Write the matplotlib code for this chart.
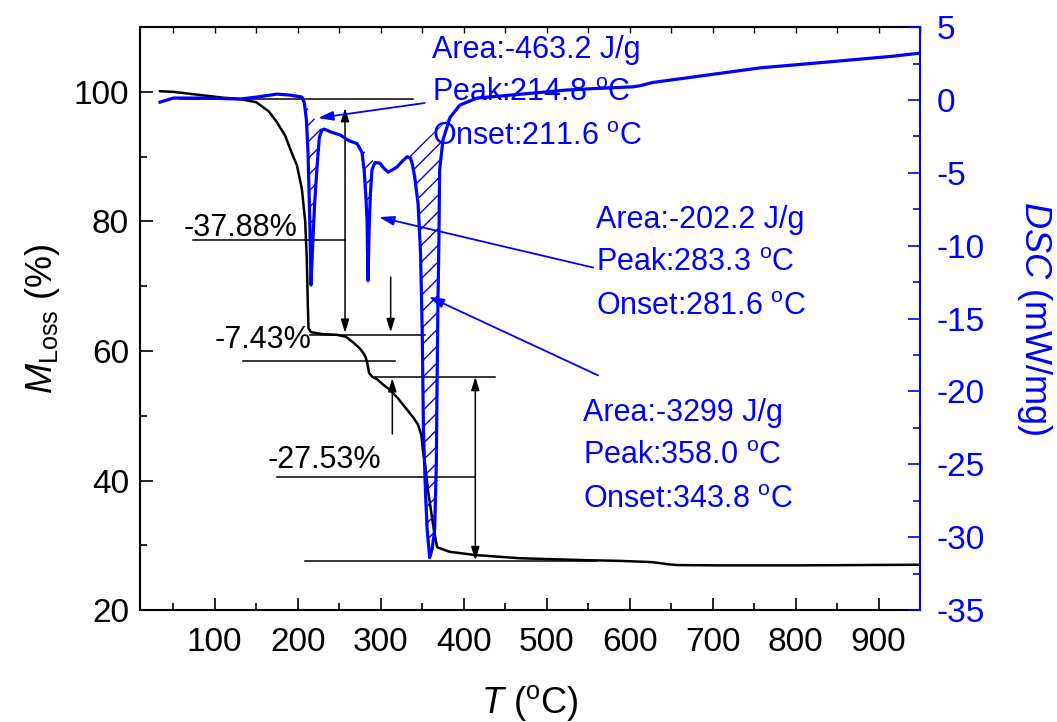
import numpy as np
import matplotlib
matplotlib.use("Agg")
import matplotlib.pyplot as plt
from matplotlib.ticker import MultipleLocator

plt.rcParams["font.family"] = ["Liberation Sans", "DejaVu Sans"]
plt.rcParams["mathtext.fontset"] = "custom"
plt.rcParams["mathtext.rm"] = "Liberation Sans"
plt.rcParams["mathtext.it"] = "Liberation Sans:italic"
plt.rcParams["axes.unicode_minus"] = False
plt.rcParams["hatch.linewidth"] = 1.0

# TGA mass curve (left axis)
tga_T = [34, 50, 70, 90, 110, 130, 150, 165, 175, 185, 193, 199, 205, 209, 211,
         212, 213, 216, 230, 247, 258, 267, 274, 279, 282, 284, 286, 290, 296,
         303, 311, 320, 332, 340, 345, 349, 351, 354, 357, 361, 364, 368, 383,
         414, 468, 549, 588, 628, 645, 657, 709, 800, 948]
tga_M = [100.1, 100.0, 99.7, 99.4, 99.1, 98.9, 98.4, 97.0, 95.3, 93.2, 90.5,
         88.7, 85.0, 80.0, 74.0, 68.0, 63.5, 62.9, 62.6, 62.5, 62.2, 61.3, 60.5,
         59.7, 59.0, 58.0, 56.6, 56.0, 55.6, 54.8, 54.0, 52.8, 50.9, 49.6, 48.6,
         47.0, 44.5, 42.0, 38.5, 35.0, 32.4, 29.7, 29.0, 28.5, 28.0, 27.7, 27.6,
         27.4, 27.1, 26.95, 26.9, 26.9, 27.0]

# DSC heat-flow curve (right axis)
dsc_T = [34, 50, 91, 130, 151, 175, 191, 205, 208, 210.5, 212.4, 214.5, 216,
         218, 220.5, 223, 226, 229, 232, 240, 251, 262, 271.5, 277.5, 280, 282,
         283.5, 284.7, 286, 287.5, 289.5, 293, 299, 304, 309, 314, 319.6, 326,
         331.7, 336, 338.5, 341, 345, 348, 350, 351.5, 354, 356, 359, 362, 365,
         367, 368, 369, 370, 371, 375, 383.5, 395.5, 416, 444, 483.5, 524, 564,
         604, 612, 628, 676, 757, 838, 917, 948]
dsc_D = [-0.15, 0.13, 0.13, 0.06, 0.2, 0.4, 0.33, 0.2, -0.2, -1.4, -3.6, -8.2,
         -12.7, -10.0, -7.0, -4.8, -2.6, -2.07, -2.0, -2.2, -2.4, -2.8, -3.0,
         -3.6, -4.8, -6.5, -8.2, -12.4, -9.0, -6.5, -4.8, -4.3, -4.33, -4.7,
         -4.95, -4.8, -4.6, -4.2, -3.9, -4.0, -4.5, -5.3, -7.1, -10.5, -15.8,
         -22.6, -27.0, -29.5, -31.4, -30.8, -29.5, -25.0, -19.0, -13.7, -10.3,
         -4.8, -2.75, -1.2, -0.35, 0.13, 0.27, 0.47, 0.68, 0.8, 0.9, 0.97, 1.2,
         1.57, 2.2, 2.6, 3.0, 3.2]

# integration ranges (start T, end T) of the three endotherms
peak_ranges = [(208, 229), (271.5, 293), (331.7, 383.5)]
peak_text = [["Area:-463.2 J/g", "Peak:214.8 $^\\mathrm{o}$C", "Onset:211.6 $^\\mathrm{o}$C"],
             ["Area:-202.2 J/g", "Peak:283.3 $^\\mathrm{o}$C", "Onset:281.6 $^\\mathrm{o}$C"],
             ["Area:-3299 J/g", "Peak:358.0 $^\\mathrm{o}$C", "Onset:343.8 $^\\mathrm{o}$C"]]

# mass-loss steps
loss_labels = ["-37.88%", "-7.43%", "-27.53%"]

BLUE = "#0000FF"

fig = plt.figure(figsize=(10.57, 7.22), dpi=100)
ax = fig.add_axes([0.1325, 0.155, 0.738, 0.8075])
ax2 = ax.twinx()

ax.plot(tga_T, tga_M, color="black", lw=1.8, zorder=3)
ax2.plot(dsc_T, dsc_D, color=BLUE, lw=2.3, zorder=3)

dT = np.array(dsc_T)
dD = np.array(dsc_D)
for t0, t1 in peak_ranges:
    m = (dT >= t0) & (dT <= t1)
    ax2.fill(dT[m], dD[m], facecolor="none", edgecolor=BLUE, hatch="//", lw=0)

# black step construction lines
hlines = [(98.9, 58, 339), (77.1, 74, 257), (62.5, 215, 353), (58.5, 134, 317),
          (56.0, 293, 438), (40.5, 175, 414), (27.6, 209, 560)]
for y, x0, x1 in hlines:
    ax.plot([x0, x1], [y, y], color="black", lw=1.1)

aprops = dict(color="black", lw=1.1, shrinkA=0, shrinkB=0)
ax.annotate("", xy=(257, 97.5), xytext=(257, 62.8),
            arrowprops=dict(arrowstyle="<|-|>,head_length=0.8,head_width=0.25", **aprops))
ax.annotate("", xy=(312, 62.9), xytext=(312, 71.4),
            arrowprops=dict(arrowstyle="-|>,head_length=0.8,head_width=0.25", **aprops))
ax.annotate("", xy=(314, 55.8), xytext=(314, 47.2),
            arrowprops=dict(arrowstyle="-|>,head_length=0.8,head_width=0.25", **aprops))
ax.annotate("", xy=(414, 56.0), xytext=(414, 27.7),
            arrowprops=dict(arrowstyle="<|-|>,head_length=0.8,head_width=0.25", **aprops))

for lab, (x, y) in zip(loss_labels, [(62, 77.8), (100, 60.5), (164, 41.9)]):
    ax.text(x, y, lab, fontsize=22, ha="left", va="baseline")

# blue peak annotations
text_pos = [(362, [3.42, 0.47, -2.55]), (559, [-8.24, -11.19, -14.21]),
            (544, [-21.48, -24.43, -27.45])]
for lines, (x, ys) in zip(peak_text, text_pos):
    for s, y in zip(lines, ys):
        ax2.text(x, y, s, color=BLUE, fontsize=22, ha="left", va="center")

arrows = [((224.5, -1.24), (353, -0.21)), ((298, -8.04), (556, -11.5)),
          ((358, -13.5), (562, -18.9))]
for tip, tail in arrows:
    ax2.annotate("", xy=tip, xytext=tail,
                 arrowprops=dict(arrowstyle="-|>,head_length=0.9,head_width=0.28",
                                 color=BLUE, lw=1.3, shrinkA=0, shrinkB=0))

ax.set_xlim(10, 950)
ax.set_ylim(20, 110)
ax2.set_ylim(-35, 5)

ax.xaxis.set_major_locator(MultipleLocator(100))
ax.xaxis.set_minor_locator(MultipleLocator(50))
ax.yaxis.set_major_locator(MultipleLocator(20))
ax.yaxis.set_minor_locator(MultipleLocator(10))
ax2.yaxis.set_major_locator(MultipleLocator(5))
ax2.yaxis.set_minor_locator(MultipleLocator(2.5))
ax.set_xticks([100, 200, 300, 400, 500, 600, 700, 800, 900])

ax.tick_params(which="both", direction="in", top=False, right=False,
               labelsize=24, width=1.2)
ax.tick_params(which="major", length=9)
ax.tick_params(which="minor", length=5)
ax.tick_params(axis="x", pad=12)
ax.tick_params(axis="y", pad=8)
ax2.tick_params(which="both", direction="in", colors=BLUE, labelsize=24,
                width=1.2, pad=12)
ax2.tick_params(which="major", length=9)
ax2.tick_params(which="minor", length=5)

top = ax.secondary_xaxis("top")
top.xaxis.set_major_locator(MultipleLocator(50))
top.tick_params(direction="in", length=4, labeltop=False, width=1.0)

for sp in ["left", "bottom", "top"]:
    ax.spines[sp].set_linewidth(1.5)
top.spines["top"].set_linewidth(1.5)
ax.spines["right"].set_visible(False)
for sp in ["left", "bottom", "top"]:
    ax2.spines[sp].set_visible(False)
ax2.spines["right"].set_color(BLUE)
ax2.spines["right"].set_linewidth(1.5)

ax.set_xlabel("$T$ ($^\\mathrm{o}$C)", fontsize=26)
ax.set_ylabel("$M_\\mathrm{Loss}$ (%)", fontsize=26)
ax2.set_ylabel("$DSC$ (mW/mg)", fontsize=26, color=BLUE, rotation=270)
ax.xaxis.set_label_coords(0.5, -0.125)
ax.yaxis.set_label_coords(-0.1, 0.5)
ax2.yaxis.set_label_coords(1.172, 0.5)

fig.savefig("out.png", dpi=100)
